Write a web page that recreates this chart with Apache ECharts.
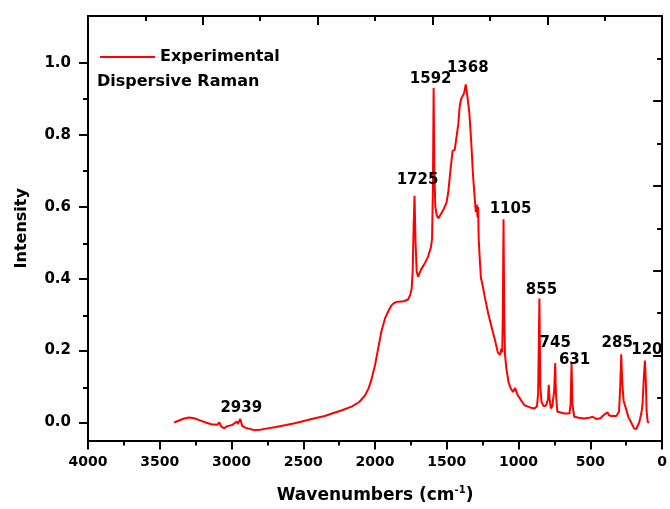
<!DOCTYPE html>
<html>
<head>
<meta charset="utf-8">
<script src="https://cdn.jsdelivr.net/npm/echarts@6/dist/echarts.min.js"></script>
<style>
  html, body { margin: 0; padding: 0; background: #fff; }
  #chart { width: 670px; height: 509px; }
</style>
</head>
<body>
<div id="chart"></div>
<script>
// Dispersive Raman spectrum: [wavenumber (cm-1), normalised intensity]
const wavenumbers = [
  3400, 3370, 3330, 3295, 3260, 3220, 3180, 3140, 3100, 3085, 3070, 3050, 3030, 2995,
  2965, 2955, 2939, 2925, 2900, 2880, 2850, 2830, 2800, 2760, 2700, 2620, 2560, 2510,
  2500, 2490, 2420, 2350, 2300, 2230, 2160, 2110, 2070, 2045, 2025, 2000, 1975, 1955,
  1930, 1905, 1885, 1865, 1840, 1800, 1770, 1755, 1745, 1738, 1731, 1725, 1718, 1710,
  1700, 1680, 1650, 1630, 1612, 1603, 1597, 1592, 1587, 1580, 1570, 1558, 1540, 1520,
  1503, 1490, 1475, 1460, 1445, 1435, 1420, 1410, 1400, 1390, 1380, 1368, 1355, 1343,
  1330, 1318, 1306, 1298, 1290, 1286, 1282, 1278, 1270, 1262, 1255, 1248, 1236, 1210,
  1190, 1165, 1145, 1130, 1120, 1114, 1110, 1105, 1100, 1095, 1085, 1070, 1055, 1039,
  1024, 1015, 1005, 980, 959, 920, 889, 872, 864, 855, 849, 840, 825, 808,
  795, 790, 784, 775, 765, 752, 745, 740, 730, 700, 681, 646, 638, 631,
  625, 612, 580, 542, 510, 484, 460, 448, 430, 403, 390, 380, 370, 355,
  345, 320, 310, 300, 292, 285, 278, 268, 253, 235, 218, 195, 180, 172,
  160, 145, 137, 128, 120, 114, 108, 100, 91
];
const intensities = [
  0.000, 0.005, 0.011, 0.014, 0.012, 0.006, 0.000, -0.005, -0.006, 0.000, -0.012, -0.016, -0.010, -0.007,
  0.003, -0.004, 0.010, -0.010, -0.015, -0.017, -0.020, -0.021, -0.020, -0.017, -0.013, -0.007, -0.002, 0.003,
  0.007, 0.005, 0.012, 0.018, 0.025, 0.034, 0.045, 0.057, 0.075, 0.095, 0.120, 0.160, 0.213, 0.255,
  0.290, 0.312, 0.326, 0.333, 0.336, 0.337, 0.342, 0.355, 0.372, 0.420, 0.550, 0.630, 0.500, 0.420,
  0.405, 0.425, 0.445, 0.462, 0.485, 0.510, 0.650, 0.930, 0.700, 0.600, 0.575, 0.568, 0.580, 0.595,
  0.610, 0.640, 0.700, 0.755, 0.758, 0.762, 0.830, 0.880, 0.900, 0.905, 0.915, 0.940, 0.900, 0.860,
  0.780, 0.690, 0.625, 0.585, 0.605, 0.570, 0.600, 0.510, 0.450, 0.400, 0.390, 0.375, 0.350, 0.300,
  0.268, 0.230, 0.195, 0.188, 0.205, 0.195, 0.300, 0.565, 0.300, 0.190, 0.150, 0.112, 0.095, 0.085,
  0.096, 0.085, 0.075, 0.060, 0.048, 0.042, 0.039, 0.045, 0.080, 0.345, 0.100, 0.057, 0.045, 0.048,
  0.065, 0.105, 0.065, 0.039, 0.045, 0.090, 0.165, 0.080, 0.030, 0.027, 0.025, 0.025, 0.050, 0.165,
  0.050, 0.016, 0.013, 0.011, 0.013, 0.016, 0.010, 0.006, 0.012, 0.022, 0.018, 0.028, 0.020, 0.018,
  0.022, 0.018, 0.016, 0.030, 0.100, 0.190, 0.110, 0.060, 0.040, 0.015, 0.002, -0.017, -0.018, -0.014,
  0.000, 0.025, 0.048, 0.120, 0.172, 0.120, 0.030, 0.000, 0.002
];

// Assigned band positions (cm-1)
const peakPositions = [2939, 1725, 1592, 1368, 1105, 855, 745, 631, 285, 120];

// Axis ticks
const yMajorTicks = [0.0, 0.2, 0.4, 0.6, 0.8, 1.0];
const yMinorTicks = [0.1, 0.3, 0.5, 0.7, 0.9];

const spectrum = wavenumbers.map((w, i) => [w, intensities[i]]);

// Fine placement of each band label relative to its peak
const labelNudge = {
  2939: [1, -4], 1725: [3, -9], 1592: [-3, -2], 1368: [2, -9], 1105: [7, -3],
  855: [2, -1], 745: [0, -13], 631: [3, 4], 285: [-4, -4], 120: [2, -4]
};

const peakMarks = peakPositions.map(w => {
  const idx = wavenumbers.indexOf(w);
  return {
    value: [w, intensities[idx]],
    label: { offset: labelNudge[w] }
  };
});

const FONT = 'DejaVu Sans';
const black = '#000';
const Y_MIN = -0.05, Y_MAX = 1.13;
const plotBox = { left: 88, right: 6, top: 16, bottom: 67, containLabel: false };

const chart = echarts.init(document.getElementById('chart'), null, { renderer: 'canvas' });

chart.setOption({
  animation: false,
  backgroundColor: '#fff',
  // second grid shares the plot box and only carries the left minor ticks
  grid: [Object.assign({}, plotBox), Object.assign({}, plotBox)],
  legend: {
    data: ['Experimental'],
    left: 95, top: 44,
    icon: 'rect',
    itemWidth: 55, itemHeight: 2, itemGap: 6,
    textStyle: { fontFamily: FONT, fontWeight: 'bold', fontSize: 16, color: '#000' }
  },
  graphic: [{
    type: 'text', left: 97, top: 74,
    style: { text: 'Dispersive Raman', font: 'bold 16px "DejaVu Sans"', fill: '#000' }
  }],
  xAxis: [{
    gridIndex: 0,
    type: 'value', inverse: true, min: 0, max: 4000, interval: 500,
    name: 'Wavenumbers (cm{sup|-1})',
    nameLocation: 'middle', nameGap: 45,
    nameTextStyle: {
      fontFamily: FONT, fontWeight: 'bold', fontSize: 17, color: '#000',
      rich: { sup: { fontFamily: FONT, fontWeight: 'bold', fontSize: 10, verticalAlign: 'top', padding: [0, 0, 10, 0] } }
    },
    axisLine: { show: true, onZero: false, lineStyle: { color: black, width: 2 } },
    axisTick: { show: true, inside: false, length: 9, lineStyle: { color: black, width: 2 } },
    minorTick: { show: true, splitNumber: 2, length: 5, lineStyle: { color: black, width: 2 } },
    axisLabel: {
      show: true, margin: 15, color: '#000',
      fontFamily: FONT, fontWeight: 'bold', fontSize: 14,
      formatter: v => String(v)
    },
    splitLine: { show: false }, minorSplitLine: { show: false }
  }, {
    gridIndex: 0,
    type: 'value', position: 'top', min: 0, max: 10, interval: 2,
    axisLine: { show: true, onZero: false, lineStyle: { color: black, width: 2 } },
    axisTick: { show: true, inside: true, length: 9, lineStyle: { color: black, width: 2 } },
    minorTick: { show: true, splitNumber: 2, length: 5, lineStyle: { color: black, width: 2 } },
    axisLabel: { show: false },
    splitLine: { show: false }
  }, {
    gridIndex: 1,
    type: 'value', min: 0, max: 4000, show: false
  }],
  yAxis: [{
    gridIndex: 0,
    type: 'value', min: Y_MIN, max: Y_MAX,
    name: 'Intensity', nameLocation: 'middle', nameGap: 58,
    nameTextStyle: { fontFamily: FONT, fontWeight: 'bold', fontSize: 16, color: '#000' },
    axisLine: { show: true, onZero: false, lineStyle: { color: black, width: 2 } },
    axisTick: { show: true, inside: false, length: 9, customValues: yMajorTicks, lineStyle: { color: black, width: 2 } },
    axisLabel: {
      show: true, margin: 17, color: '#000',
      fontFamily: FONT, fontWeight: 'bold', fontSize: 15,
      customValues: yMajorTicks,
      formatter: v => v.toFixed(1)
    },
    splitLine: { show: false }
  }, {
    gridIndex: 0,
    type: 'value', position: 'right', min: 0, max: 10, interval: 2,
    axisLine: { show: true, onZero: false, lineStyle: { color: black, width: 2 } },
    axisTick: { show: true, inside: true, length: 9, lineStyle: { color: black, width: 2 } },
    minorTick: { show: true, splitNumber: 2, length: 5, lineStyle: { color: black, width: 2 } },
    axisLabel: { show: false },
    splitLine: { show: false }
  }, {
    gridIndex: 1,
    type: 'value', position: 'left', min: Y_MIN, max: Y_MAX,
    axisLine: { show: false },
    axisTick: { show: true, inside: false, length: 5, customValues: yMinorTicks, lineStyle: { color: black, width: 2 } },
    axisLabel: { show: false, customValues: yMinorTicks },
    splitLine: { show: false }
  }],
  series: [{
    name: 'Experimental',
    type: 'line',
    xAxisIndex: 0, yAxisIndex: 0,
    data: spectrum,
    showSymbol: false,
    smooth: false,
    lineStyle: { color: '#ff0000', width: 2 },
    itemStyle: { color: '#ff0000' },
    z: 3
  }, {
    name: 'bands',
    type: 'scatter',
    xAxisIndex: 0, yAxisIndex: 0,
    data: peakMarks,
    symbolSize: 0,
    silent: true,
    itemStyle: { opacity: 1 },
    label: {
      show: true, position: 'top', distance: 0,
      formatter: p => String(p.value[0]),
      fontFamily: FONT, fontWeight: 'bold', fontSize: 15, lineHeight: 14,
      color: '#000', opacity: 1
    },
    z: 4
  }]
});
</script>
</body>
</html>
